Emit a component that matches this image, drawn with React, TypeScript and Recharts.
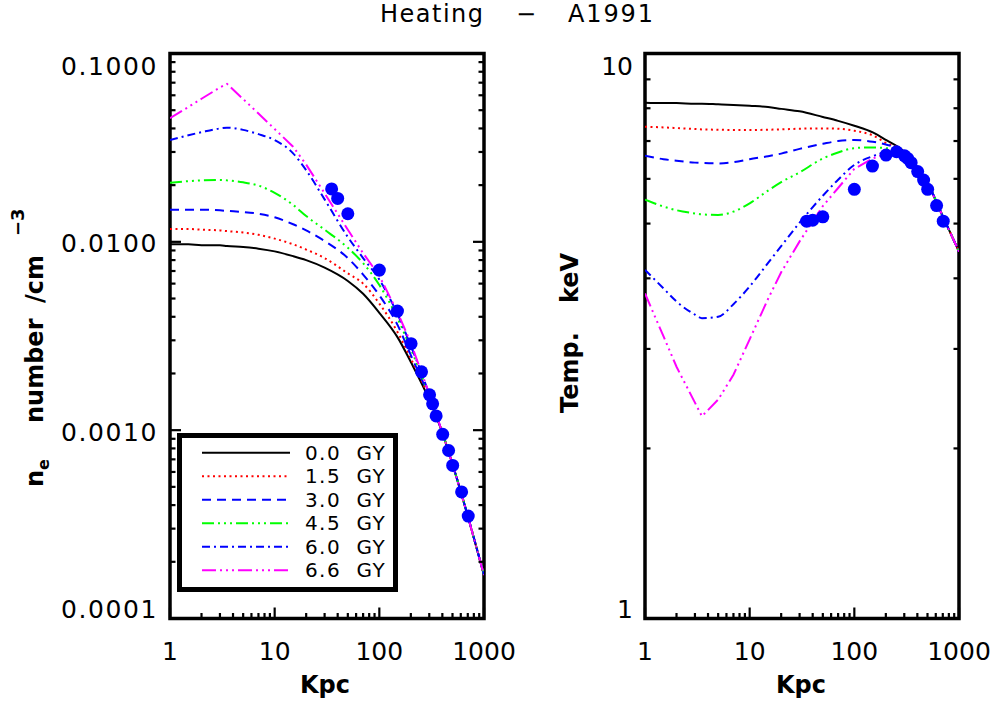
import React from 'react'
import { ComposedChart, Line, Scatter, XAxis, YAxis, ReferenceArea, Legend } from 'recharts'

// model radii (kpc) shared by every curve
const radiusKpc = [1, 1.5, 2, 3, 3.5, 5, 7, 10, 15, 20, 30, 50, 70, 100, 150, 200, 300, 400, 500, 700, 1000]

// electron density, cm^-3
const ne00 = [0.0097, 0.0097, 0.0096, 0.0096, 0.0095, 0.0094, 0.0092, 0.0089, 0.0084, 0.008, 0.0073, 0.0062, 0.0053, 0.0042, 0.0031, 0.0023, 0.00145, 0.00097, 0.00066, 0.00035, 0.00017]
const ne15 = [0.0117, 0.0117, 0.0116, 0.0115, 0.0114, 0.0112, 0.0109, 0.0104, 0.0097, 0.0091, 0.0082, 0.0068, 0.006, 0.0047, 0.0033, 0.0024, 0.00148, 0.00097, 0.00066, 0.00035, 0.00017]
const ne30 = [0.0148, 0.0148, 0.0148, 0.0147, 0.0146, 0.0144, 0.0141, 0.0135, 0.0124, 0.0115, 0.0101, 0.0082, 0.0067, 0.0052, 0.0036, 0.0025, 0.0015, 0.00097, 0.00066, 0.00035, 0.00017]
const ne45 = [0.0206, 0.021, 0.0212, 0.0213, 0.0212, 0.0207, 0.0199, 0.0182, 0.0157, 0.0137, 0.0116, 0.0093, 0.0077, 0.0059, 0.0039, 0.0027, 0.00152, 0.00097, 0.00066, 0.00035, 0.00017]
const ne60 = [0.0347, 0.0368, 0.0382, 0.04, 0.0404, 0.0393, 0.0373, 0.0347, 0.0295, 0.024, 0.0168, 0.0106, 0.0082, 0.0063, 0.0041, 0.0028, 0.00155, 0.00097, 0.00066, 0.00035, 0.00017]
const ne66 = [0.0453, 0.052, 0.0575, 0.066, 0.069, 0.0573, 0.048, 0.0397, 0.032, 0.0257, 0.0181, 0.0116, 0.0087, 0.0066, 0.0042, 0.0029, 0.00156, 0.00097, 0.00066, 0.00035, 0.00017]

// temperature, keV
const kt00 = [8.18, 8.17, 8.17, 8.15, 8.15, 8.13, 8.11, 8.08, 8.04, 7.98, 7.9, 7.72, 7.6, 7.45, 7.25, 7.03, 6.7, 6.28, 5.9, 5.15, 4.46]
const kt15 = [7.42, 7.4, 7.38, 7.35, 7.34, 7.33, 7.32, 7.32, 7.33, 7.34, 7.36, 7.37, 7.36, 7.3, 7.16, 6.95, 6.7, 6.28, 5.9, 5.15, 4.46]
const kt30 = [6.59, 6.5, 6.46, 6.41, 6.4, 6.39, 6.42, 6.5, 6.58, 6.65, 6.78, 6.92, 7.0, 7.03, 6.98, 6.9, 6.7, 6.28, 5.9, 5.15, 4.46]
const kt45 = [5.51, 5.36, 5.28, 5.21, 5.19, 5.18, 5.25, 5.43, 5.72, 5.92, 6.16, 6.52, 6.68, 6.8, 6.82, 6.8, 6.7, 6.28, 5.9, 5.15, 4.46]
const kt60 = [4.14, 3.84, 3.64, 3.45, 3.4, 3.42, 3.6, 3.87, 4.26, 4.56, 5.02, 5.6, 5.98, 6.35, 6.58, 6.68, 6.7, 6.28, 5.9, 5.15, 4.46]
const kt66 = [3.76, 3.16, 2.79, 2.41, 2.28, 2.44, 2.7, 3.12, 3.68, 4.1, 4.65, 5.37, 5.78, 6.25, 6.52, 6.64, 6.7, 6.28, 5.9, 5.15, 4.46]

// A1991 observations
const obsKpc = [35, 40, 50, 100, 149, 201, 253, 302, 323, 349, 403, 459, 502, 611, 707]
const obsNe = [0.0191, 0.017, 0.0141, 0.00708, 0.00429, 0.00288, 0.00204, 0.00154, 0.00138, 0.00119, 0.00095, 0.00078, 0.00065, 0.00047, 0.00035]
const obsKt = [5.05, 5.07, 5.14, 5.75, 6.32, 6.61, 6.7, 6.59, 6.52, 6.41, 6.18, 5.97, 5.75, 5.38, 5.05]

const gyLabels = ['0.0  GY', '1.5  GY', '3.0  GY', '4.5  GY', '6.0  GY', '6.6  GY']

const kpcTicks = [1, 2, 3, 4, 5, 6, 7, 8, 9, 10, 20, 30, 40, 50, 60, 70, 80, 90, 100, 200, 300, 400, 500, 600, 700, 800, 900, 1000]
const neTicks = [0.0001, 0.0002, 0.0003, 0.0004, 0.0005, 0.0006, 0.0007, 0.0008, 0.0009, 0.001, 0.002, 0.003, 0.004, 0.005, 0.006, 0.007, 0.008, 0.009, 0.01, 0.02, 0.03, 0.04, 0.05, 0.06, 0.07, 0.08, 0.09, 0.1]
const ktTicks = [1, 2, 3, 4, 5, 6, 7, 8, 9, 10]

const series = [
  { key: 'g00', color: '#000000', dash: undefined as string | undefined, type: 'monotone' },
  { key: 'g15', color: '#ff0000', dash: '2 3.5', type: 'monotone' },
  { key: 'g30', color: '#0000ff', dash: '9 6', type: 'monotone' },
  { key: 'g45', color: '#00ff00', dash: '12 4 2 4 2 4 2 4', type: 'monotone' },
  { key: 'g60', color: '#0000ff', dash: '8 4 2 4', type: 'monotone' },
  { key: 'g66', color: '#ff00ff', dash: '14 4 2 4 2 4 2 4', type: 'linear' },
]

const neRows = radiusKpc.map((r, i) => ({ r, g00: ne00[i], g15: ne15[i], g30: ne30[i], g45: ne45[i], g60: ne60[i], g66: ne66[i] }))
const ktRows = radiusKpc.map((r, i) => ({ r, g00: kt00[i], g15: kt15[i], g30: kt30[i], g45: kt45[i], g60: kt60[i], g66: kt66[i] }))
const neObs = obsKpc.map((r, i) => ({ r, v: obsNe[i] }))
const ktObs = obsKpc.map((r, i) => ({ r, v: obsKt[i] }))

const FONT = 'DejaVu Sans'

const isMajor = (v: number) => Math.abs(Math.log10(v) - Math.round(Math.log10(v))) < 1e-6

function makeTick(side: string, label?: (v: number) => string | null, lo?: number, hi?: number, spacing = 0) {
  return (props: any) => {
    const { x, y, payload } = props
    const v = payload.value
    const len = isMajor(v) ? 11 : 5.5
    let x2 = x
    let y2 = y
    if (side === 'bottom') y2 = y - len
    if (side === 'top') y2 = y + len
    if (side === 'left') x2 = x + len
    if (side === 'right') x2 = x - len
    const txt = label ? label(v) : null
    let t = null
    if (txt && side === 'bottom') {
      t = <text x={x} y={y + 41} textAnchor="middle" fontSize={25} fontFamily={FONT} fill="#000">{txt}</text>
    }
    if (txt && side === 'left') {
      const nudge = v === hi ? 11 : v === lo ? -11.5 : 0
      t = (
        <text x={x - 12} y={y + 10.5 + nudge} textAnchor="end" fontSize={25} fontFamily={FONT} fill="#000" letterSpacing={spacing}>
          {txt}
        </text>
      )
    }
    return (
      <g>
        <line x1={x} y1={y} x2={x2} y2={y2} stroke="#000" strokeWidth={2.2} />
        {t}
      </g>
    )
  }
}

function GyLegend() {
  return (
    <svg width={221} height={159}>
      <rect x={2.5} y={2.5} width={216} height={154} fill="#fff" stroke="#000" strokeWidth={5} />
      {series.map((s, i) => {
        const cy = 19.7 + i * 23.5
        return (
          <g key={s.key}>
            <line x1={25} x2={113} y1={cy} y2={cy} stroke={s.color} strokeWidth={2} strokeDasharray={s.dash} />
            <text x={128} y={cy + 7} fontSize={20} fontFamily={FONT} fill="#000" letterSpacing={1.4} style={{ whiteSpace: 'pre' }}>
              {gyLabels[i]}
            </text>
          </g>
        )
      })}
    </svg>
  )
}

type PanelProps = {
  left: number
  width: number
  margin: { top: number; right: number; bottom: number; left: number }
  rows: any[]
  obs: any[]
  yDomain: [number, number]
  yTicks: number[]
  yLabel: (v: number) => string | null
  ySpacing: number
  legend?: boolean
}

function Panel({ left, width, margin, rows, obs, yDomain, yTicks, yLabel, ySpacing, legend }: PanelProps) {
  return (
    <div style={{ position: 'absolute', left, top: 0 }}>
      <ComposedChart width={width} height={702} data={rows} margin={margin}>
        <XAxis xAxisId="x" dataKey="r" type="number" scale="log" domain={[1, 1000]} allowDataOverflow
          ticks={kpcTicks} interval={0} height={1} tickSize={0} tickMargin={0} axisLine={false} tickLine={false}
          tick={makeTick('bottom', (v) => (isMajor(v) ? String(v) : null))} />
        <XAxis xAxisId="xt" orientation="top" type="number" scale="log" domain={[1, 1000]} allowDataOverflow
          ticks={kpcTicks} interval={0} height={1} tickSize={0} tickMargin={0} axisLine={false} tickLine={false}
          tick={makeTick('top')} />
        <YAxis yAxisId="y" type="number" scale="log" domain={yDomain} allowDataOverflow
          ticks={yTicks} interval={0} width={1} tickSize={0} tickMargin={0} axisLine={false} tickLine={false}
          tick={makeTick('left', yLabel, yDomain[0], yDomain[1], ySpacing)} />
        <YAxis yAxisId="yr" orientation="right" type="number" scale="log" domain={yDomain} allowDataOverflow
          ticks={yTicks} interval={0} width={1} tickSize={0} tickMargin={0} axisLine={false} tickLine={false}
          tick={makeTick('right')} />
        {series.map((s) => (
          <Line key={s.key} xAxisId="x" yAxisId="y" dataKey={s.key} type={s.type as any} stroke={s.color}
            strokeWidth={2} strokeDasharray={s.dash} dot={false} activeDot={false} isAnimationActive={false} />
        ))}
        <Scatter xAxisId="x" yAxisId="y" data={obs} dataKey="v" fill="#0000ff" isAnimationActive={false}
          shape={(p: any) => <circle cx={p.cx} cy={p.cy} r={6.5} fill="#0000ff" />} />
        <ReferenceArea xAxisId="x" yAxisId="y" x1={1} x2={1000} y1={yDomain[0]} y2={yDomain[1]}
          fill="none" fillOpacity={0} stroke="#000" strokeWidth={3.5} ifOverflow="visible" />
        {legend && (
          <Legend layout="vertical" align="center" verticalAlign="middle" content={() => <GyLegend />}
            wrapperStyle={{ left: 177, top: 433, width: 221, height: 159 }} />
        )}
      </ComposedChart>
    </div>
  )
}

export default function App() {
  return (
    <div style={{ position: 'absolute', left: 0, top: 0, width: 994, height: 702, background: '#fff', fontFamily: FONT }}>
      <Panel left={0} width={560} margin={{ top: 52.5, right: 75, bottom: 82.5, left: 169 }}
        rows={neRows} obs={neObs} yDomain={[0.0001, 0.1]} yTicks={neTicks}
        yLabel={(v) => (isMajor(v) ? v.toFixed(4) : null)} ySpacing={1.6} legend />
      <Panel left={560} width={434} margin={{ top: 52.5, right: 34, bottom: 82.5, left: 84 }}
        rows={ktRows} obs={ktObs} yDomain={[1, 10]} yTicks={ktTicks}
        yLabel={(v) => (isMajor(v) ? String(v) : null)} ySpacing={0} />
      <svg width={994} height={702} style={{ position: 'absolute', left: 0, top: 0, pointerEvents: 'none' }}>
        <g fontFamily={FONT} fill="#000">
          <text x={380} y={22} fontSize={24} textLength={103} lengthAdjust="spacing">Heating</text>
          <text x={516} y={22} fontSize={24}>−</text>
          <text x={568} y={22} fontSize={24} textLength={85} lengthAdjust="spacing">A1991</text>
          <text x={325} y={693} fontSize={24} fontWeight="bold" textAnchor="middle">Kpc</text>
          <text x={801} y={693} fontSize={24} fontWeight="bold" textAnchor="middle">Kpc</text>
          <text transform="translate(43,0) rotate(-90)" fontSize={24} fontWeight="bold">
            <tspan x={-487} y={0}>n</tspan>
            <tspan x={-470} y={6} fontSize={16}>e</tspan>
            <tspan x={-423} y={0}>number</tspan>
            <tspan x={-303} y={0}>/cm</tspan>
            <tspan x={-236} y={-19} fontSize={18}>−3</tspan>
          </text>
          <text transform="translate(578,0) rotate(-90)" fontSize={24} fontWeight="bold">
            <tspan x={-413} y={0}>Temp.</tspan>
            <tspan x={-303} y={0}>keV</tspan>
          </text>
        </g>
      </svg>
    </div>
  )
}
